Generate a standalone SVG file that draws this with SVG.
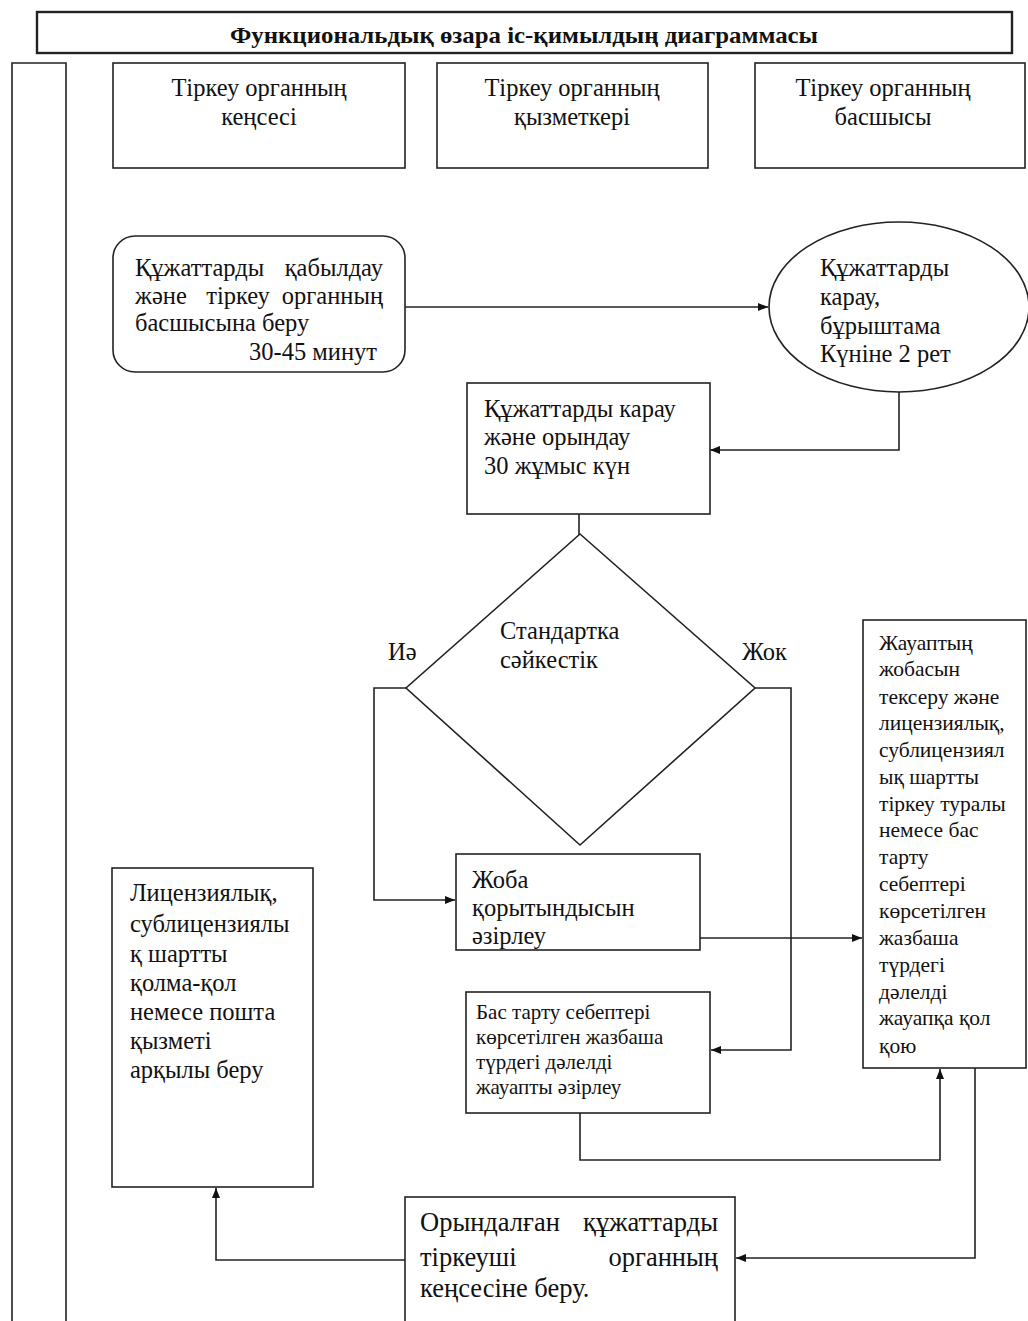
<svg xmlns="http://www.w3.org/2000/svg" width="1028" height="1321" viewBox="0 0 1028 1321">
<defs>
<marker id="arr" viewBox="0 0 10 10" refX="10" refY="5" markerWidth="10" markerHeight="10" markerUnits="userSpaceOnUse" orient="auto">
<path d="M0,1 L10,5 L0,9 Z" fill="#111"/>
</marker>
<style>
.b{fill:#fff;stroke:#222;stroke-width:1.6}
.c{fill:none;stroke:#222;stroke-width:1.6}
text{font-family:"Liberation Serif","DejaVu Serif",serif;fill:#111}
.t{font-size:24.5px}
.s{font-size:21.5px}
.xs{font-size:21px}
.h{font-size:24.5px;text-anchor:middle}
.e{text-anchor:end}
.o{font-size:26.5px}
</style>
</defs>
<rect width="1028" height="1321" fill="#fff"/>

<g id="title">
<rect x="37" y="12" width="975" height="41" fill="#fff" stroke="#222" stroke-width="2.4"/>
<text x="524" y="43" text-anchor="middle" font-size="24" font-weight="bold" textLength="588" lengthAdjust="spacingAndGlyphs">Функциональдық өзара іс-қимылдың диаграммасы</text>
</g>

<g id="lane">
<path class="c" d="M12,1321 V63 H66 V1321"/>
</g>

<g id="hdr1">
<rect class="b" x="113" y="63" width="292" height="105"/>
<text class="h" x="259" y="96">Тіркеу органның</text>
<text class="h" x="259" y="125">кеңсесі</text>
</g>
<g id="hdr2">
<rect class="b" x="437" y="63" width="271" height="105"/>
<text class="h" x="572" y="96">Тіркеу органның</text>
<text class="h" x="572" y="125">қызметкері</text>
</g>
<g id="hdr3">
<rect class="b" x="755" y="63" width="270" height="105"/>
<text class="h" x="883" y="96">Тіркеу органның</text>
<text class="h" x="883" y="125">басшысы</text>
</g>

<g id="connectors">
<path class="c" d="M405,307 H768" marker-end="url(#arr)"/>
<path class="c" d="M899,392 V450 H710" marker-end="url(#arr)"/>
<path class="c" d="M579,514 V556" marker-end="url(#arr)"/>
<path class="c" d="M406,688 H374 V900 H455" marker-end="url(#arr)"/>
<path class="c" d="M755,688 H791 V1050 H711" marker-end="url(#arr)"/>
<path class="c" d="M700,938 H862" marker-end="url(#arr)"/>
<path class="c" d="M580,1113 V1160 H940 V1069" marker-end="url(#arr)"/>
<path class="c" d="M975,1068 V1258 H736" marker-end="url(#arr)"/>
<path class="c" d="M405,1260 H216 V1188" marker-end="url(#arr)"/>
</g>

<g id="n_receive">
<rect class="b" x="113" y="236" width="292" height="136" rx="22"/>
<text class="t" x="135" y="276">Құжаттарды</text>
<text class="t e" x="383" y="276">қабылдау</text>
<text class="t" x="135" y="304">және</text>
<text class="t" x="238" y="304" text-anchor="middle">тіркеу</text>
<text class="t e" x="383" y="304">органның</text>
<text class="t" x="135" y="331">басшысына беру</text>
<text class="t e" x="377" y="360">30-45 минут</text>
</g>

<g id="n_review">
<ellipse class="b" cx="899" cy="307" rx="130" ry="85"/>
<text class="t" x="820" y="276">Құжаттарды</text>
<text class="t" x="820" y="305">карау,</text>
<text class="t" x="820" y="334">бұрыштама</text>
<text class="t" x="820" y="362">Күніне 2 рет</text>
</g>

<g id="n_execute">
<rect class="b" x="467" y="383" width="243" height="131"/>
<text class="t" x="484" y="417">Құжаттарды карау</text>
<text class="t" x="484" y="445">және орындау</text>
<text class="t" x="484" y="474">30 жұмыс күн</text>
</g>

<g id="n_decision">
<path class="b" d="M580,534 L755,688 L580,845 L406,688 Z"/>
<text class="t" x="500" y="639">Стандартка</text>
<text class="t" x="500" y="668">сәйкестік</text>
<text class="t" x="388" y="660">Иә</text>
<text class="t" x="742" y="660">Жок</text>
</g>

<g id="n_draft">
<rect class="b" x="456" y="854" width="244" height="96"/>
<text class="t" x="472" y="888">Жоба</text>
<text class="t" x="472" y="916">қорытындысын</text>
<text class="t" x="472" y="944">әзірлеу</text>
</g>

<g id="n_refuse">
<rect class="b" x="466" y="992" width="244" height="121"/>
<text class="xs" x="476" y="1019">Бас тарту себептері</text>
<text class="xs" x="476" y="1044">көрсетілген жазбаша</text>
<text class="xs" x="476" y="1069">түрдегі дәлелді</text>
<text class="xs" x="476" y="1094">жауапты әзірлеу</text>
</g>

<g id="n_sign">
<rect class="b" x="863" y="620" width="163" height="448"/>
<text class="s" x="879" y="650">Жауаптың</text>
<text class="s" x="879" y="676">жобасын</text>
<text class="s" x="879" y="704">тексеру және</text>
<text class="s" x="879" y="730">лицензиялық,</text>
<text class="s" x="879" y="757">сублицензиял</text>
<text class="s" x="879" y="784">ық шартты</text>
<text class="s" x="879" y="811">тіркеу туралы</text>
<text class="s" x="879" y="837">немесе бас</text>
<text class="s" x="879" y="864">тарту</text>
<text class="s" x="879" y="891">себептері</text>
<text class="s" x="879" y="918">көрсетілген</text>
<text class="s" x="879" y="945">жазбаша</text>
<text class="s" x="879" y="972">түрдегі</text>
<text class="s" x="879" y="999">дәлелді</text>
<text class="s" x="879" y="1025">жауапқа қол</text>
<text class="s" x="879" y="1053">қою</text>
</g>

<g id="n_deliver">
<rect class="b" x="112" y="868" width="201" height="319"/>
<text class="t" x="130" y="901">Лицензиялық,</text>
<text class="t" x="130" y="932">сублицензиялы</text>
<text class="t" x="130" y="962">қ шартты</text>
<text class="t" x="130" y="991">қолма-қол</text>
<text class="t" x="130" y="1020">немесе пошта</text>
<text class="t" x="130" y="1049">қызметі</text>
<text class="t" x="130" y="1078">арқылы беру</text>
</g>

<g id="n_office">
<rect class="b" x="405" y="1197" width="330" height="140"/>
<text class="o" x="420" y="1231">Орындалған</text>
<text class="o e" x="718" y="1231">құжаттарды</text>
<text class="o" x="420" y="1266">тіркеуші</text>
<text class="o e" x="718" y="1266">органның</text>
<text class="o" x="420" y="1297">кеңсесіне беру.</text>
</g>
</svg>
